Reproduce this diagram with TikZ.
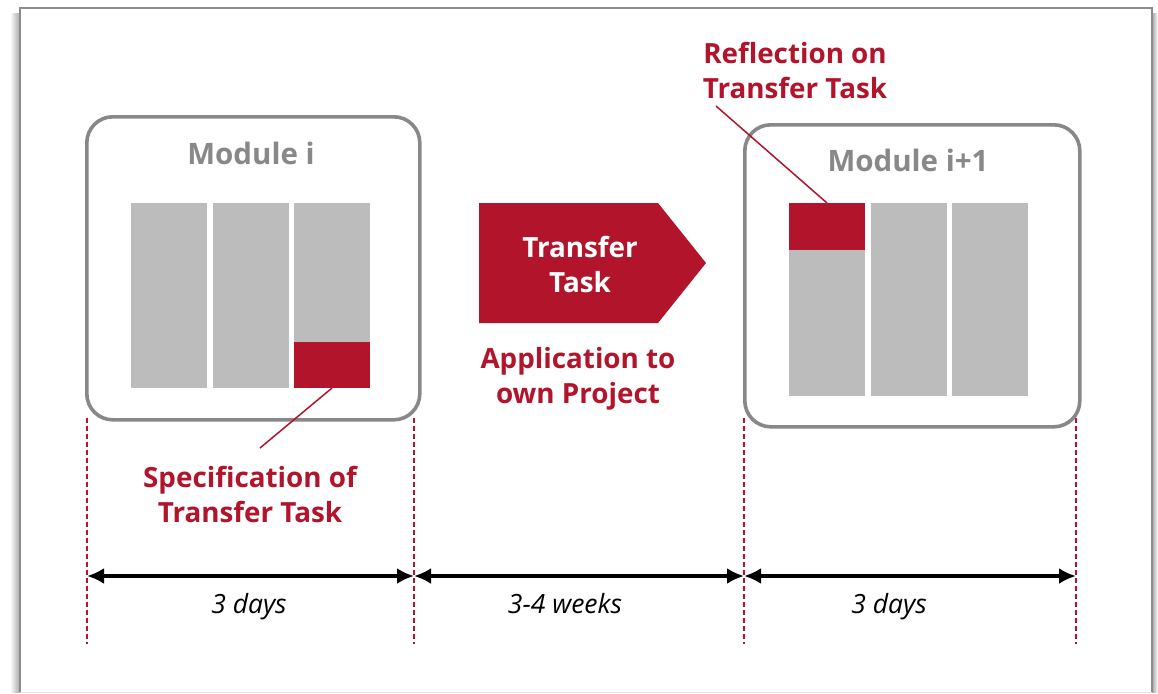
\documentclass[tikz,border=0pt]{standalone}
\usepackage{fontspec}
\setmainfont{Open Sans}
\usetikzlibrary{arrows.meta}
\usetikzlibrary{positioning}
\usepackage{xcolor}
\definecolor{tfred}{RGB}{178,21,43}
\definecolor{modgray}{RGB}{136,136,136}
\definecolor{colgray}{RGB}{188,188,188}
\tikzset{
  modbox/.style={draw=modgray, line width=3.6pt, rounded corners=26pt, inner sep=0pt, anchor=north west},
  column/.style={fill=colgray, inner sep=0pt, outer sep=0pt, anchor=north west, minimum width=76pt},
  redblk/.style={fill=tfred, inner sep=0pt, outer sep=0pt, anchor=north west, minimum width=76pt},
  redlbl/.style={text=tfred, font=\fontsize{27.8}{35}\selectfont\bfseries, align=center, inner sep=0pt, anchor=base},
  modlbl/.style={text=modgray, font=\fontsize{29.5}{35}\selectfont\bfseries, inner sep=0pt, anchor=base},
  daylbl/.style={font=\fontsize{26.5}{30}\selectfont\itshape, inner sep=0pt, anchor=base},
  span/.style={{Latex[length=17pt,width=16pt]}-{Latex[length=17pt,width=16pt]}, line width=3.6pt},
  bound/.style={draw=tfred, line width=2.2pt, dash pattern=on 5pt off 3pt},
}
\begin{document}
\begin{tikzpicture}[x=1pt,y=-1pt]
			\useasboundingbox (0,0) rectangle (1158,693);
			% Rahmen
			\fill[left color=white, right color=black!35] (10,14) rectangle (20,692);
			\fill[left color=black!35, right color=white] (1152,14) rectangle (1158,692);
			\fill[white] (20,8) rectangle (1152,692);
			\draw[black!45, line width=1.2pt] (20,692) -- (20,8) -- (1152,8) -- (1152,692);
			\draw[black!10, line width=1pt] (20,692) -- (1152,692);
			
			% Modul i
			\begin{scope}
				\node[modbox, minimum width=333pt, minimum height=303pt] (modA) at (85,115) {};
				\node[modlbl] (modAlbl) at (251,164) {Module i};
				\foreach \x [count=\i] in {131,213,294}
					\node[column, minimum height=185pt] (colA\i) at (\x,203) {};
				\node[redblk, minimum height=46pt] (specBlk) at (294,342) {};
				\node[redlbl] (specLbl) at (250,522) {Specification of\\Transfer Task};
				\coordinate (specEnd) at (260,448);
				\draw[tfred, line width=1.5pt] (specBlk.south) -- (specEnd);
			\end{scope}
			
			% Transfer-Aufgabe
			\begin{scope}
				\fill[tfred] (479,203) -- (658,203) -- (706,263) -- (658,323) -- (479,323) -- cycle;
				\node[redlbl, text=white] (task) at (580,292) {Transfer\\Task};
				\node[redlbl] (appLbl) at (578,403) {Application to\\own Project};
			\end{scope}
			
			% Modul i+1
			\begin{scope}
				\node[modbox, minimum width=335pt, minimum height=302pt] (modB) at (743,123) {};
				\node[modlbl] (modBlbl) at (908,171) {Module i+1};
				\foreach \x [count=\i] in {789,871,952}
					\node[column, minimum height=193pt] (colB\i) at (\x,203) {};
				\node[redblk, minimum height=47pt] (reflBlk) at (789,203) {};
				\node[redlbl] (reflLbl) at (795,98) {Reflection on\\Transfer Task};
				\coordinate (reflEnd) at (716,106);
				\draw[tfred, line width=1.5pt] (reflBlk.north) -- (reflEnd);
			\end{scope}
			
			% Zeitachse
			\foreach \x [count=\i from 0] in {87,414,744,1076} {
				\draw[bound] (\x,418) -- (\x,644);
				\coordinate (t\i) at (\x,576);
			}
			\draw[span] (t0) -- (t1);
			\draw[span] (t1) -- (t2);
			\draw[span] (t2) -- (t3);
			\node[daylbl] (durA) at (249,613) {3 days};
			\node[daylbl] (durT) at (565,613) {3-4 weeks};
			\node[daylbl] (durB) at (889,613) {3 days};
		\end{tikzpicture}
\end{document}
